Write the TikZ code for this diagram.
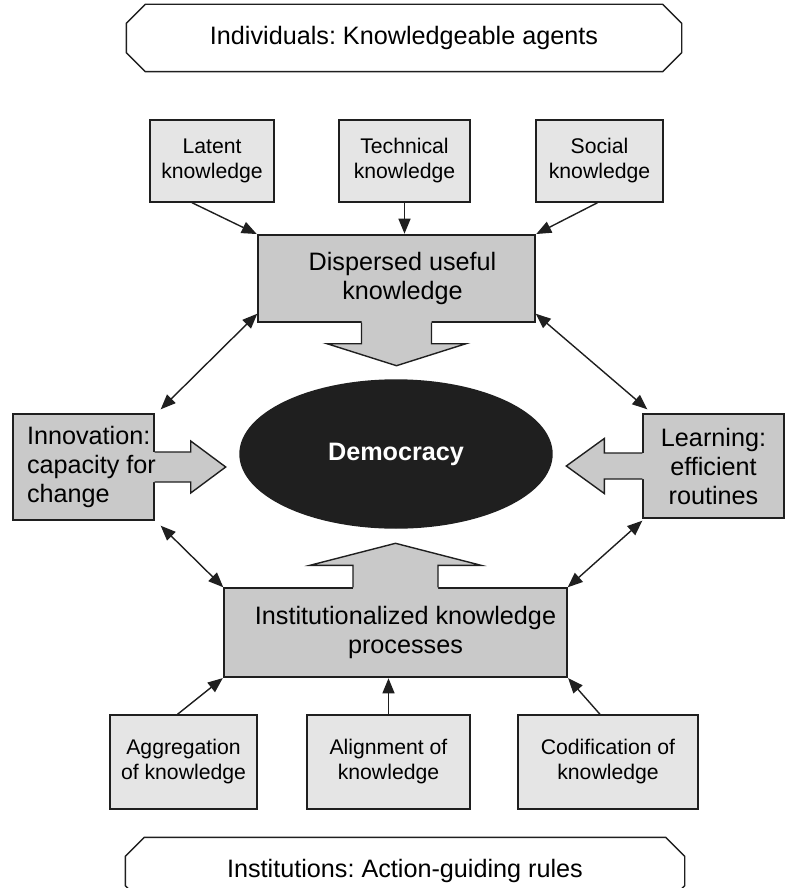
\documentclass[tikz,border=0pt]{standalone}
\usepackage{fontspec}
\setmainfont{Liberation Sans}
\frenchspacing
\usetikzlibrary{arrows.meta,shapes.geometric,calc}

\definecolor{boxgray}{gray}{0.79}
\definecolor{lightgray}{gray}{0.90}
\definecolor{inkgray}{gray}{0.12}

\begin{document}
\begin{tikzpicture}[x=0.5pt,y=-0.5pt,line width=0.7pt,draw=inkgray,
  bigfont/.style={font=\fontsize{12.6pt}{14.5pt}\selectfont},
  smallfont/.style={font=\fontsize{10.6pt}{12.5pt}\selectfont},
  banner/.style={rectangle,bigfont,inner sep=0pt,minimum height=33pt},
  smallbox/.style={rectangle,draw,fill=lightgray,smallfont,align=center,inner sep=0pt},
  bigbox/.style={rectangle,draw,fill=boxgray,bigfont,align=center,inner sep=0pt},
  link/.style={-{Triangle[length=7.5pt,width=6pt]},shorten >=0.3pt},
  twoway/.style={{Triangle[length=7.5pt,width=6pt]}-{Triangle[length=7.5pt,width=6pt]}}]

\useasboundingbox (0,0) rectangle (787,888);

% outer layers
\node[banner,minimum width=277pt] (indiv) at (404,38) {Individuals: Knowledgeable agents};
\node[banner,minimum width=279pt] (instit) at (405,871) {Institutions: Action-guiding rules};
\foreach \b in {indiv,instit}
  \draw ([shift={(19,0)}]\b.north west) -- ([shift={(-19,0)}]\b.north east) -- ([shift={(0,19)}]\b.north east)
    -- ([shift={(0,-19)}]\b.south east) -- ([shift={(-19,0)}]\b.south east) -- ([shift={(19,0)}]\b.south west)
    -- ([shift={(0,-19)}]\b.south west) -- ([shift={(0,19)}]\b.north west) -- cycle;

% kinds of knowledge
\node[smallbox,minimum width=62pt,minimum height=41pt] (latent) at (212,161) {Latent\\knowledge};
\node[smallbox,minimum width=65.5pt,minimum height=41pt] (tech) at (404.5,161) {Technical\\knowledge};
\node[smallbox,minimum width=63.5pt,minimum height=41pt] (social) at (599.5,161) {Social\\knowledge};

\node[bigbox,minimum width=138.5pt,minimum height=43.5pt] (disp) at (396.5,278.5) {\hspace*{6pt}Dispersed useful\\\hspace*{6pt}knowledge};

\node[ellipse,fill=inkgray,draw=inkgray,minimum width=156pt,minimum height=74pt,text=white,bigfont] (democ) at (396,454) {\textbf{Democracy}};

\node[bigbox,minimum width=70.5pt,minimum height=53pt] (innov) at (83.5,467) {};
\node[bigbox,minimum width=70.5pt,minimum height=52pt] (learn) at (713.5,466) {Learning:\\efficient\\routines};

\node[bigbox,minimum width=171.5pt,minimum height=44.5pt] (inst) at (395.5,632.5) {\hspace*{10pt}Institutionalized knowledge\\\hspace*{10pt}processes};

% knowledge processes
\node[smallbox,minimum width=73.5pt,minimum height=47pt] (aggr) at (183.5,762) {Aggregation\\of knowledge};
\node[smallbox,minimum width=81.5pt,minimum height=47pt] (align) at (388.5,762) {Alignment of\\knowledge};
\node[smallbox,minimum width=90pt,minimum height=47pt] (codif) at (608,762) {Codification of\\knowledge};

% block arrows into democracy
\fill[boxgray] ([shift={(-35,-2)}]disp.south) -- ([shift={(-35,21)}]disp.south) -- ([shift={(-69.5,21)}]disp.south)
  -- ([shift={(0,43)}]disp.south) -- ([shift={(69.5,21)}]disp.south) -- ([shift={(35,21)}]disp.south) -- ([shift={(35,-2)}]disp.south) -- cycle;
\draw ([shift={(-35,0)}]disp.south) -- ([shift={(-35,21)}]disp.south) -- ([shift={(-69.5,21)}]disp.south)
  -- ([shift={(0,43)}]disp.south) -- ([shift={(69.5,21)}]disp.south) -- ([shift={(35,21)}]disp.south) -- ([shift={(35,0)}]disp.south);

\fill[boxgray] ([shift={(-42.5,2)}]inst.north) -- ([shift={(-42.5,-22)}]inst.north) -- ([shift={(-85.5,-22)}]inst.north)
  -- ([shift={(0,-44)}]inst.north) -- ([shift={(85.5,-22)}]inst.north) -- ([shift={(42.5,-22)}]inst.north) -- ([shift={(42.5,2)}]inst.north) -- cycle;
\draw ([shift={(-42.5,0)}]inst.north) -- ([shift={(-42.5,-22)}]inst.north) -- ([shift={(-85.5,-22)}]inst.north)
  -- ([shift={(0,-44)}]inst.north) -- ([shift={(85.5,-22)}]inst.north) -- ([shift={(42.5,-22)}]inst.north) -- ([shift={(42.5,0)}]inst.north);

\fill[boxgray] ([shift={(-2,-15)}]innov.east) -- ([shift={(36,-15)}]innov.east) -- ([shift={(36,-26)}]innov.east)
  -- ([shift={(71,0)}]innov.east) -- ([shift={(36,26)}]innov.east) -- ([shift={(36,15)}]innov.east) -- ([shift={(-2,15)}]innov.east) -- cycle;
\draw ([shift={(0,-15)}]innov.east) -- ([shift={(36,-15)}]innov.east) -- ([shift={(36,-26)}]innov.east)
  -- ([shift={(71,0)}]innov.east) -- ([shift={(36,26)}]innov.east) -- ([shift={(36,15)}]innov.east) -- ([shift={(0,15)}]innov.east);

\fill[boxgray] ([shift={(2,-13)}]learn.west) -- ([shift={(-38,-13)}]learn.west) -- ([shift={(-38,-27.5)}]learn.west)
  -- ([shift={(-76,0)}]learn.west) -- ([shift={(-38,27.5)}]learn.west) -- ([shift={(-38,13)}]learn.west) -- ([shift={(2,13)}]learn.west) -- cycle;
\draw ([shift={(0,-13)}]learn.west) -- ([shift={(-38,-13)}]learn.west) -- ([shift={(-38,-27.5)}]learn.west)
  -- ([shift={(-76,0)}]learn.west) -- ([shift={(-38,27.5)}]learn.west) -- ([shift={(-38,13)}]learn.west) -- ([shift={(0,13)}]learn.west);

% text of the innovation box sits over its arrow
\node[bigfont,align=left,anchor=west,inner sep=0pt] (innovtext) at ([shift={(14,0)}]innov.west) {Innovation:\\capacity for\\change};

% feeding arrows
\draw[link] ([shift={(-20,0)}]latent.south) -- (disp.north west);
\draw[link] (tech.south) -- (tech.south |- disp.north);
\draw[link] ([shift={(-2,0)}]social.south) -- (disp.north east);

\draw[link] ([shift={(-6,0)}]aggr.north) -- (inst.south west);
\draw[link] (align.north) -- (align.north |- inst.south);
\draw[link] ([shift={(-8,0)}]codif.north) -- (inst.south east);

% two-way links
\draw[twoway] ([shift={(0,-9)}]disp.south west) -- ([shift={(6,-4)}]innov.north east);
\draw[twoway] ([shift={(0,-9)}]disp.south east) -- ([shift={(5,-4)}]learn.north west);
\draw[twoway] ([shift={(6,5)}]innov.south east) -- (inst.north west);
\draw[twoway] (inst.north east) -- ([shift={(0,2)}]learn.south west);

\end{tikzpicture}
\end{document}
